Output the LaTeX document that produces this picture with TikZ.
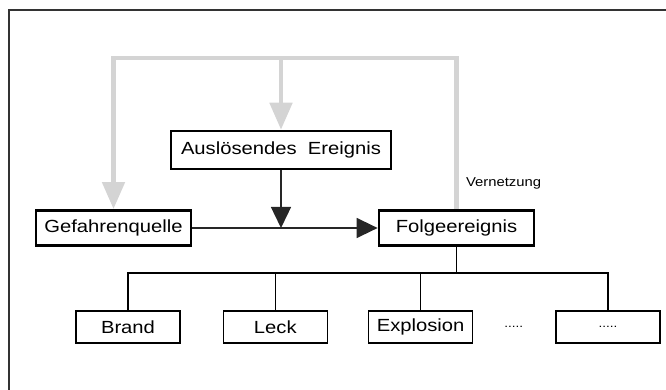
\documentclass[tikz,border=0pt]{standalone}
\usepackage{fontspec}
\setmainfont{Liberation Sans}[FakeStretch=1.15]
\usetikzlibrary{positioning, arrows.meta}

\begin{document}
\begin{tikzpicture}[x=0.03cm, y=-0.03cm,
    event/.style={rectangle, draw, line width=2.3pt, minimum width=4.65cm, minimum height=1.06cm, inner sep=0pt, font=\fontsize{15}{18}\selectfont},
    leaf/.style={rectangle, draw, line width=1.1pt, minimum width=3.12cm, minimum height=0.96cm, inner sep=0pt, font=\fontsize{15}{18}\selectfont},
    flow/.style={draw=black!85, line width=1.7pt, -{Triangle[length=18pt, width=17pt]}},
    net/.style={draw=black!17, line width=3.6pt, -{Triangle[length=23pt, width=19pt]}},
    branch/.style={line width=1.1pt}]

    \useasboundingbox (0,0) rectangle (666,390);
    % Frame
    \draw[line width=1.4pt, black!80] (9,390) -- (9,10) -- (666,10);

    % Events
    \node[event, minimum width=6.6cm, minimum height=1.14cm] (box1) at (281,150) {Auslösendes\ \ Ereignis};
    \node[event] (box0) at (113.5,228) {Gefahrenquelle};
    \node[event] (box2) at (456.5,228) {Folgeereignis};
    \node[anchor=west, font=\fontsize{11}{13}\selectfont] (label0) at (462,183) {Vernetzung};

    % Consequences
    \node[leaf] (leaf0) at (128,327) {Brand};
    \node[leaf, right=1.26cm of leaf0] (leaf1) {Leck};
    \node[leaf, right=1.2cm of leaf1] (leaf2) {Explosion};
    \node[right=0.93cm of leaf2, inner sep=0pt, font=\fontsize{10}{12}\selectfont] (dot0) {.....};
    \node[leaf, right=0.96cm of dot0, font=\fontsize{10}{12}\selectfont] (leaf3) {.....};

    % Feedback (Vernetzung)
    \coordinate (top0) at (0,58);
    \coordinate (net0) at (box2.north |- top0);
    \draw[net] (box2.north) -- (net0) -| (box0.north);
    \draw[net] (net0) -| (box1.north);

    % Main chain
    \coordinate (join0) at (box1.south |- box0.east);
    \draw[flow] (box0.east) -- (box2.west);
    \draw[flow] (box1.south) -- (join0);

    % Tree to the consequences
    \coordinate (level0) at (0,273);
    \coordinate (bus0) at (box2.south |- level0);
    \draw[branch] (box2.south) -- (bus0);
    \foreach \n in {0,...,3}
        \draw[branch] (bus0) -| (leaf\n.north);
\end{tikzpicture}
\end{document}
